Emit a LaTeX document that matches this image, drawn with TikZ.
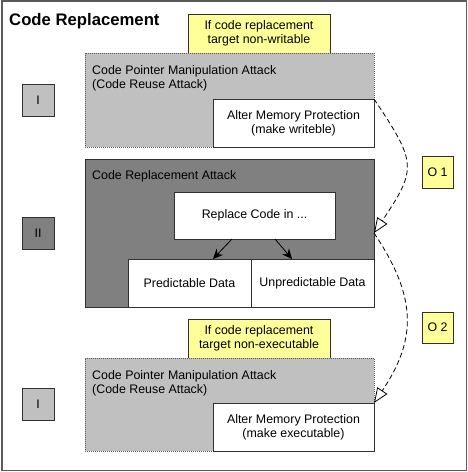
\documentclass[tikz,border=0pt]{standalone}
\usepackage{fontspec}
\setmainfont{Liberation Sans}
\usetikzlibrary{arrows.meta}
\definecolor{noteyellow}{HTML}{FFFF99}
\definecolor{paleattack}{HTML}{C0C0C0}
\definecolor{darkattack}{HTML}{808080}
\definecolor{rimgray}{HTML}{5A5A5A}
\definecolor{edgedark}{HTML}{303030}

\begin{document}
\begin{tikzpicture}[x=1pt,y=-1pt,
  txt/.style={font=\fontsize{12.4}{14}\selectfont},
  region/.style={anchor=north west, inner sep=0pt, outer sep=0pt},
  cmpa/.style={region, fill=paleattack, draw=rimgray, line width=0.8pt, dash pattern=on 1pt off 1pt},
  crabox/.style={region, fill=darkattack, draw=edgedark, line width=0.9pt},
  plain/.style={region, fill=white, draw=edgedark, line width=0.9pt, txt, align=center},
  note/.style={region, fill=noteyellow, draw=edgedark, line width=0.8pt, txt, align=center},
  phase/.style={region, draw=edgedark, line width=0.8pt, txt, minimum width=32pt, minimum height=32pt},
  caption/.style={anchor=north west, inner sep=0pt, txt, align=left},
  flow/.style={-{Stealth[length=10pt,width=9pt]}, line width=0.8pt, black},
  option/.style={dash pattern=on 5pt off 3pt, line width=0.8pt, black,
    -{Triangle[open,length=15pt,width=12pt,line width=0.8pt]}}
]
\useasboundingbox (0,0) rectangle (468,472);

% outer frame and heading
\node[region, draw=rimgray, line width=1.3pt, minimum width=464.5pt, minimum height=469.5pt] (frame) at (2,1) {};
\node[anchor=base west, inner sep=0pt, font=\fontsize{16.7}{20}\selectfont\bfseries] (title) at (9,25) {Code Replacement};

% stage I: make target writable
\node[note, minimum width=142pt, minimum height=39pt] (cond1) at (188,14) {If code replacement\\target non-writable};
\node[cmpa, minimum width=289pt, minimum height=94pt] (cpm1) at (85,53) {};
\node[caption] (cpm1text) at (92,65) {Code Pointer Manipulation Attack\\(Code Reuse Attack)};
\node[plain, minimum width=161pt, minimum height=48pt] (alter1) at (213,99) {Alter Memory Protection\\(make writeble)};
\node[phase, fill=paleattack] (tag1) at (22,84) {I};

% stage II: the replacement itself
\node[crabox, minimum width=289pt, minimum height=148pt] (cra) at (85,159) {};
\node[caption] (cratext) at (92,170) {Code Replacement Attack};
\node[plain, minimum width=161pt, minimum height=47pt] (rep) at (174,192) {Replace Code in ...};
\node[plain, minimum width=123pt, minimum height=48pt] (pred) at (128,259) {Predictable Data};
\node[plain, minimum width=123pt, minimum height=48pt] (unpred) at (251,259) {Unpredictable Data};
\node[phase, fill=darkattack] (tag2) at (22,217) {II};

\draw[flow] ([xshift=-22.5pt]rep.south) -- ([xshift=23.5pt]pred.north);
\draw[flow] ([xshift=20.5pt]rep.south) -- ([xshift=-20.5pt]unpred.north);

% optional steps
\node[note, minimum width=31pt, minimum height=32pt] (o1) at (422,156) {O 1};
\node[note, minimum width=31pt, minimum height=31pt] (o2) at (422,312) {O 2};

% stage I again: make target executable
\node[note, minimum width=142pt, minimum height=39pt] (cond2) at (188,319) {If code replacement\\target non-executable};
\node[cmpa, minimum width=289pt, minimum height=93pt] (cpm2) at (85,358) {};
\node[caption] (cpm2text) at (92,370) {Code Pointer Manipulation Attack\\(Code Reuse Attack)};
\node[plain, minimum width=161pt, minimum height=48pt] (alter2) at (213,403) {Alter Memory Protection\\(make executable)};
\node[phase, fill=paleattack] (tag3) at (22,388) {I};

% dashed links between the stages
\draw[option] (alter1.north east) .. controls +(43,64) and +(43,-64) .. (cra.east);
\draw[option] (cra.east) .. controls +(43,64) and +(43,-64) .. (alter2.north east);
\end{tikzpicture}
\end{document}
